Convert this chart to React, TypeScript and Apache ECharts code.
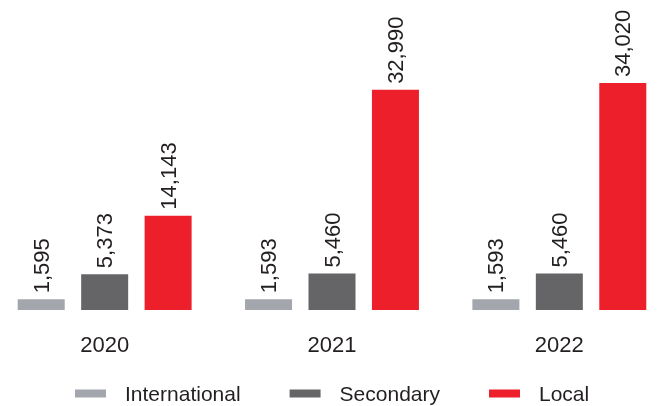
import React, { useEffect, useRef } from "react";
import * as echarts from "echarts";

const years = ["2020", "2021", "2022"];
const international = [1595, 1593, 1593];
const secondary = [5373, 5460, 5460];
const local = [14143, 32990, 34020];

const seriesNames = ["International", "Secondary", "Local"];
const colors = ["#a4a6ad", "#656567", "#ec1f2b"];

const FONT = "'Liberation Sans', Arial, Helvetica, sans-serif";
const TEXT = "#231f20";

const SHIFT = 9;
const CW = 682;

export default function App() {
  const ref = useRef<HTMLDivElement>(null);
  useEffect(() => {
    if (!ref.current) return;
    const chart = echarts.init(ref.current, undefined, { renderer: "svg" });
    const mk = (name: string, data: number[], color: string) => ({
      name,
      type: "bar",
      data,
      barWidth: 47,
      barGap: "35%",
      itemStyle: { color },
      label: {
        show: true,
        position: "top",
        rotate: 90,
        align: "left",
        verticalAlign: "middle",
        distance: 6,
        formatter: (p: any) => p.value.toLocaleString("en-US"),
        fontFamily: FONT,
        fontSize: 22,
        color: TEXT,
      },
    });
    chart.setOption({
      animation: false,
      textStyle: { fontFamily: FONT },
      grid: { left: 0, right: 0, top: 83, bottom: 96, containLabel: false },
      legend: {
        data: seriesNames,
        left: 75 + SHIFT,
        top: 383,
        padding: 0,
        itemWidth: 31,
        itemHeight: 8,
        itemGap: 49,
        icon: "rect",
        textStyle: { fontFamily: FONT, fontSize: 21, color: TEXT, padding: [0, 0, 0, 14] },
      },
      xAxis: {
        type: "category",
        data: years,
        axisLine: { show: false },
        axisTick: { show: false },
        axisLabel: { margin: 23, fontFamily: FONT, fontSize: 22, color: TEXT },
      },
      yAxis: {
        type: "value",
        min: 0,
        max: 34020,
        show: false,
        splitLine: { show: false },
      },
      series: [
        mk(seriesNames[0], international, colors[0]),
        mk(seriesNames[1], secondary, colors[1]),
        mk(seriesNames[2], local, colors[2]),
      ],
    });
    return () => chart.dispose();
  }, []);
  return (
    <div style={{ position: "fixed", left: 0, top: 0, width: 657, height: 406, overflow: "hidden" }}>
      <div ref={ref} style={{ position: "absolute", left: -SHIFT, top: 0, width: CW, height: 406 }} />
    </div>
  );
}
